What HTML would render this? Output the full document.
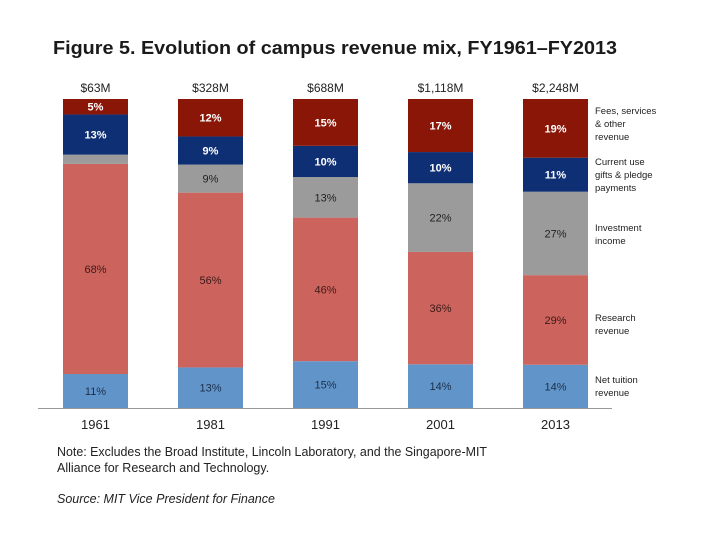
<!DOCTYPE html>
<html><head><meta charset="utf-8"><style>
html,body{margin:0;padding:0;background:#fff;}
svg{display:block;font-family:"Liberation Sans",sans-serif;}
</style></head><body>
<svg id="chart" width="720" height="540" viewBox="0 0 720 540" xmlns="http://www.w3.org/2000/svg">
<text x="53" y="54" font-size="18" font-weight="bold" fill="#1a1a1a" textLength="564" lengthAdjust="spacingAndGlyphs">Figure 5. Evolution of campus revenue mix, FY1961–FY2013</text>
<g id="bars"></g>
<line x1="38" y1="408.5" x2="612" y2="408.5" stroke="#999" stroke-width="1"/>
<g font-size="9.5" fill="#222">
<text><tspan x="595" y="114">Fees, services</tspan><tspan x="595" y="127">&amp; other</tspan><tspan x="595" y="140">revenue</tspan></text>
<text><tspan x="595" y="165">Current use</tspan><tspan x="595" y="178">gifts &amp; pledge</tspan><tspan x="595" y="191">payments</tspan></text>
<text><tspan x="595" y="231">Investment</tspan><tspan x="595" y="244">income</tspan></text>
<text><tspan x="595" y="321">Research</tspan><tspan x="595" y="334">revenue</tspan></text>
<text><tspan x="595" y="383">Net tuition</tspan><tspan x="595" y="396">revenue</tspan></text>
</g>
<text font-size="12.5" fill="#222"><tspan x="57" y="456" textLength="430" lengthAdjust="spacingAndGlyphs">Note: Excludes the Broad Institute, Lincoln Laboratory, and the Singapore-MIT</tspan><tspan x="57" y="472">Alliance for Research and Technology.</tspan></text>
<text x="57" y="503" font-size="12.5" font-style="italic" fill="#222">Source: MIT Vice President for Finance</text>
</svg>
<script>
const years = ["1961","1981","1991","2001","2013"];
const totals = ["$63M","$328M","$688M","$1,118M","$2,248M"];
const tuition = [11,13,15,14,14];
const research = [68,56,46,36,29];
const investment = [3,9,13,22,27];
const gifts = [13,9,10,10,11];
const fees = [5,12,15,17,19];

const series = [
  {name:"tuition", vals:tuition, color:"#6195c9", text:"#1c2e4a", bold:false},
  {name:"research", vals:research, color:"#cd635d", text:"#3a1a18", bold:false},
  {name:"investment", vals:investment, color:"#9b9b9b", text:"#222", bold:false},
  {name:"gifts", vals:gifts, color:"#0f2f74", text:"#fff", bold:true},
  {name:"fees", vals:fees, color:"#8a1608", text:"#fff", bold:true}
];
const NS="http://www.w3.org/2000/svg";
const g=document.getElementById("bars");
const baseY=408, plotH=309, x0=63, step=115, bw=65;
function xPos(i){return x0+i*step;}
function yScale(v,sum){return baseY - v/sum*plotH;}
years.forEach((yr,i)=>{
  let sum=0; series.forEach(s=>sum+=s.vals[i]);
  let cum=0;
  series.forEach(s=>{
    const v=s.vals[i];
    const yTop=yScale(cum+v,sum), yBot=yScale(cum,sum);
    const r=document.createElementNS(NS,"rect");
    
    
    r.setAttribute("x",xPos(i));r.setAttribute("y",yTop);
    r.setAttribute("width",bw);r.setAttribute("height",yBot-yTop);
    r.setAttribute("fill",s.color);
    g.appendChild(r);
    if(v>=5){
      const t=document.createElementNS(NS,"text");
      
      
      t.setAttribute("x",xPos(i)+bw/2);t.setAttribute("y",(yTop+yBot)/2+4);
      t.setAttribute("text-anchor","middle");t.setAttribute("font-size","11");
      t.setAttribute("fill",s.text);
      if(s.bold)t.setAttribute("font-weight","bold");
      t.textContent=v+"%";
      g.appendChild(t);
    }
    cum+=v;
  });
  const tt=document.createElementNS(NS,"text");
  
  
  tt.setAttribute("x",xPos(i)+bw/2);tt.setAttribute("y",92);
  tt.setAttribute("text-anchor","middle");tt.setAttribute("font-size","12");tt.setAttribute("fill","#222");
  tt.textContent=totals[i];g.appendChild(tt);
  const yl=document.createElementNS(NS,"text");
  
  
  yl.setAttribute("x",xPos(i)+bw/2);yl.setAttribute("y",429);
  yl.setAttribute("text-anchor","middle");yl.setAttribute("font-size","13");yl.setAttribute("fill","#222");
  yl.textContent=yr;g.appendChild(yl);
});
</script>
</body></html>
